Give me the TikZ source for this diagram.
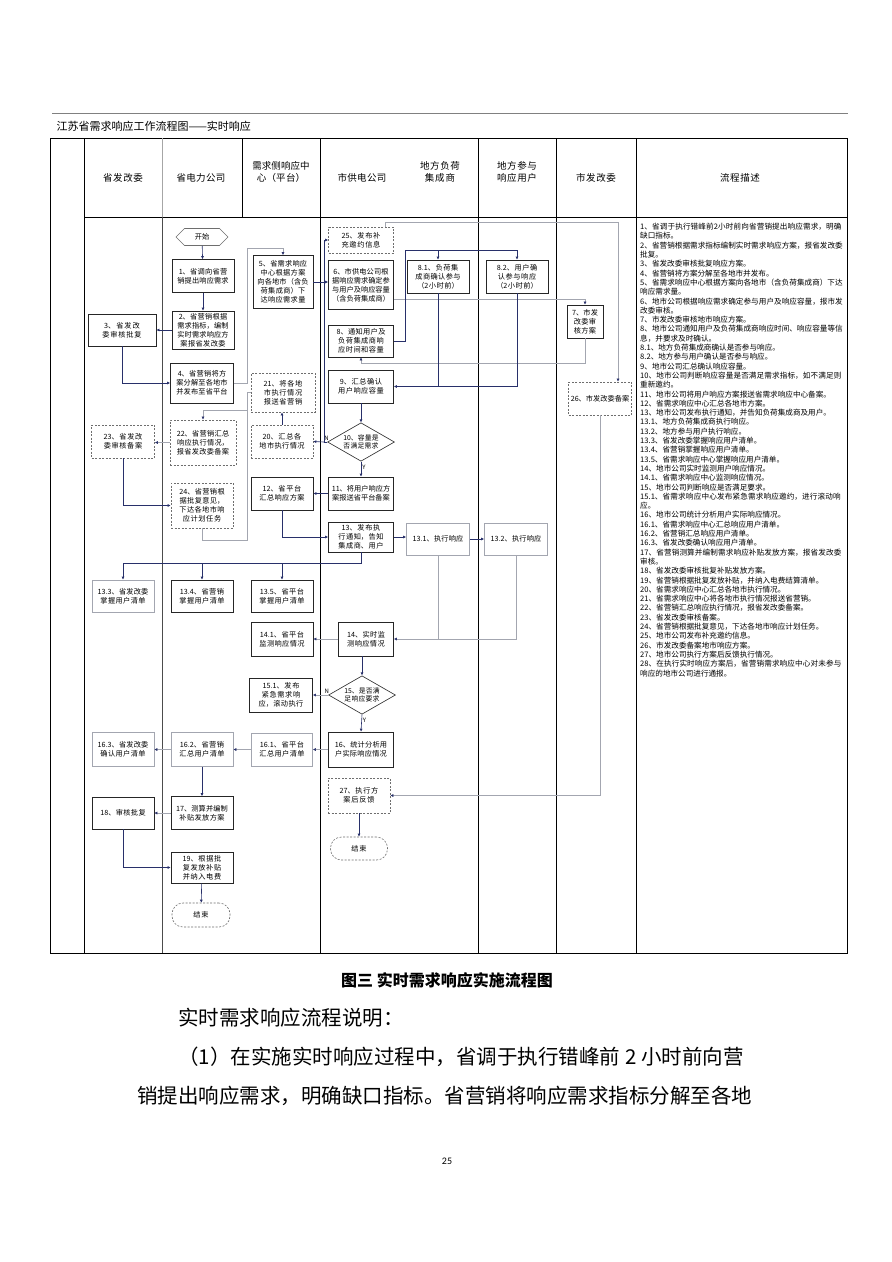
\documentclass[tikz,border=0pt]{standalone}
\usepackage{fontspec}
\setmainfont{Noto Sans CJK SC}
\newfontfamily\pageNumFont{Carlito}
\usetikzlibrary{arrows.meta,shapes.geometric,shapes.symbols}
\XeTeXlinebreaklocale "zh"
\XeTeXlinebreakskip=0pt plus 1pt

\begin{document}
\begin{tikzpicture}[x=1pt, y=-1pt,
    procBox/.style={draw=boxCol, line width=0.6pt, fill=white, align=center, inner sep=1pt, text width=56pt, font=\nodeFont},
    softBox/.style={procBox, draw=softCol},
    dashBox/.style={procBox, draw=dashCol, dash pattern=on 2pt off 1.5pt},
    endBox/.style={dashBox, rounded corners=11pt, text width=40pt},
    sz/.style 2 args={minimum width=#1, minimum height=#2},
    choice/.style={diamond, draw=boxCol, line width=0.6pt, fill=white, align=center, aspect=1.74, inner sep=0pt, text width=42pt, font=\choiceFont},
    link/.style={draw=linkCol, line width=0.6pt, -{Latex[length=3pt,width=3pt]}},
    softLink/.style={draw=softCol, line width=0.5pt, -{Latex[length=3pt,width=3pt,color=linkCol]}},
    plain/.style={draw=linkCol, line width=0.6pt},
    softPlain/.style={draw=softCol, line width=0.5pt},
    tableLine/.style={draw=black, line width=0.8pt},
    headText/.style={align=center, text width=60pt, font=\headFont},
    flag/.style={font=\fontsize{6}{6}\selectfont, inner sep=1pt}
]
    \def\nodeFont{\fontsize{7.2}{9}\selectfont}
    \def\choiceFont{\fontsize{6.8}{8}\selectfont}
    \def\headFont{\fontsize{9.5}{12}\selectfont}
    \def\descFont{\fontsize{7.6}{9.3}\selectfont}
    \def\paraFont{\fontsize{20.5}{24}\selectfont}

    \definecolor{boxCol}{HTML}{262626}
    \definecolor{dashCol}{HTML}{6E6E6E}
    \definecolor{softCol}{HTML}{A3A6B0}
    \definecolor{linkCol}{HTML}{28306A}

    % Page
    \fill[white] (0,0) rectangle (892,1262);
    \useasboundingbox (0,0) rectangle (892,1262);
    \draw[gray, line width=0.5pt] (52,113) -- (848,113);
    \node[anchor=west, font=\fontsize{11}{11}\selectfont] (title) at (53,126) {江苏省需求响应工作流程图——实时响应};

    % Table frame and lanes
    \draw[tableLine] (50,138) rectangle (847,953);
    \draw[tableLine] (84,217) -- (847,217);
    \foreach \x in {84,320,478,556,636}
        \draw[tableLine] (\x,138) -- (\x,953);
    \draw[tableLine] (242,138) -- (242,217);
    \draw[black!35, line width=0.6pt] (162,138) -- (162,217);
    \draw[black!70, line width=0.7pt] (162,217) -- (162,953);

    % Lane headers
    \node[headText] (hProvGov) at (123,178) {省发改委};
    \node[headText] (hProvGrid) at (201,178) {省电力公司};
    \node[headText] (hCentre) at (281,172) {需求侧响应中心（平台）};
    \node[headText] (hCityGrid) at (362,178) {市供电公司};
    \node[headText] (hAggr) at (440,172) {地方负荷集成商};
    \node[headText] (hUser) at (517,172) {地方参与响应用户};
    \node[headText] (hCityGov) at (596,178) {市发改委};
    \node[headText] (hDesc) at (740,178) {流程描述};

    % Process boxes
    \node[signal, signal to=east and west, draw=dashCol, line width=0.6pt, fill=white, font=\nodeFont, minimum width=52pt, minimum height=17pt, inner sep=1pt] (start) at (202,237) {开始};
    \node[procBox, sz={62}{33}] (n1) at (203,276) {1、省调向省营销提出响应需求};
    \node[procBox, sz={62}{38}] (n2) at (203,330) {2、省营销根据需求指标，编制实时需求响应方案报省发改委};
    \node[procBox, sz={68}{32}, text width=62pt] (n3) at (122,330) {3、省发改委审核批复};
    \node[procBox, sz={63}{40}] (n4) at (202,383) {4、省营销将方案分解至各地市并发布至省平台};
    \node[procBox, sz={60}{53}, text width=55pt] (n5) at (283,282) {5、省需求响应中心根据方案向各地市（含负荷集成商）下达响应需求量};
    \node[dashBox, sz={65}{26}, text width=59pt] (n25) at (361,240) {25、发布补充邀约信息};
    \node[procBox, sz={65}{49}, text width=59pt] (n6) at (361,285) {6、市供电公司根据响应需求确定参与用户及响应容量（含负荷集成商）};
    \node[procBox, sz={36}{33}, text width=31pt] (n7) at (585,321.5) {7、市发改委审核方案};
    \node[procBox, sz={65}{32}, text width=59pt] (n8) at (361,341) {8、通知用户及负荷集成商响应时间和容量};
    \node[procBox, sz={62}{33}] (n81) at (438,276.5) {8.1、负荷集成商确认参与（2小时前）};
    \node[procBox, sz={62}{33}] (n82) at (517,276.5) {8.2、用户确认参与响应（2小时前）};
    \node[procBox, sz={65}{33}, text width=59pt] (n9) at (361,386.5) {9、汇总确认用户响应容量};
    \node[choice] (d10) at (361,442) {10、容量是否满足需求};
    \node[dashBox, sz={64}{39}] (n21) at (283,392.5) {21、将各地市执行情况报送省营销};
    \node[dashBox, sz={62}{33}] (n20) at (282,441.5) {20、汇总各地市执行情况};
    \node[dashBox, sz={66}{45}, text width=60pt] (n22) at (203,442.5) {22、省营销汇总响应执行情况，报省发改委备案};
    \node[dashBox, sz={63}{33}] (n23) at (123,441.5) {23、省发改委审核备案};
    \node[dashBox, sz={62}{45}] (n24) at (202,505.5) {24、省营销根据批复意见，下达各地市响应计划任务};
    \node[dashBox, sz={63}{33}, text width=59pt] (n26) at (600,398.5) {26、市发改委备案};
    \node[procBox, sz={65}{33}, text width=59pt] (n11) at (361,493.5) {11、将用户响应方案报送省平台备案};
    \node[procBox, sz={62}{33}] (n12) at (282,493.5) {12、省平台汇总响应方案};
    \node[procBox, sz={65}{30}, text width=59pt] (n13) at (361,537) {13、发布执行通知，告知集成商、用户};
    \node[softBox, sz={63}{32}] (n131) at (438,539) {13.1、执行响应};
    \node[softBox, sz={63}{32}] (n132) at (516,539) {13.2、执行响应};
    \node[softBox, sz={62}{32}] (n133) at (123,596) {13.3、省发改委掌握用户清单};
    \node[procBox, sz={62}{32}] (n134) at (202,596) {13.4、省营销掌握用户清单};
    \node[procBox, sz={62}{32}] (n135) at (282,596) {13.5、省平台掌握用户清单};
    \node[procBox, sz={55}{34}, text width=49pt] (n14) at (366,639) {14、实时监测响应情况};
    \node[procBox, sz={62}{34}] (n141) at (282,639) {14.1、省平台监测响应情况};
    \node[choice] (d15) at (362,695) {15、是否满足响应要求};
    \node[procBox, sz={63}{34}] (n151) at (281,695) {15.1、发布紧急需求响应，滚动执行};
    \node[procBox, sz={65}{35}, text width=59pt] (n16) at (361,749.5) {16、统计分析用户实际响应情况};
    \node[softBox, sz={61}{33}] (n161) at (282,749.5) {16.1、省平台汇总用户清单};
    \node[softBox, sz={62}{34}] (n162) at (202,749.5) {16.2、省营销汇总用户清单};
    \node[softBox, sz={62}{34}] (n163) at (123,749.5) {16.3、省发改委确认用户清单};
    \node[procBox, sz={62}{33}] (n17) at (202,813) {17、测算并编制补贴发放方案};
    \node[procBox, sz={62}{32}] (n18) at (123,813) {18、审核批复};
    \node[procBox, sz={62}{31}] (n19) at (202,867.5) {19、根据批复发放补贴并纳入电费};
    \node[endBox, sz={58}{24}] (end1) at (201,915) {结束};
    \node[dashBox, sz={62}{35}] (n27) at (359,795.5) {27、执行方案后反馈};
    \node[endBox, sz={57}{23}] (end2) at (359,848.5) {结束};

    % Junctions
    \coordinate (jA) at (247,248);
    \coordinate (jB) at (405,250);
    \coordinate (jN) at (324,442);
    \coordinate (jC) at (247,410);
    \coordinate (jD) at (247,540);
    \coordinate (jE) at (618,222);
    \coordinate (busF) at (123,563);

    % Connectors: upper half
    \draw[link] (start) -- (n1);
    \draw[link] (n1) -- (n2);
    \draw[link] (n2) -- (n3);
    \draw[link] (n3.south) |- (n4.west);
    \draw[softLink] (n4.east) -| (jA) -| (n5.north);
    \draw[link] (n5.east) -- (n5.east -| n6.west);
    \draw[softLink] ([yshift=-14pt]n6.east) -| (n7.north);
    \draw[softLink] (n7.south) -- ++(0,25) -| (n8.south);
    \draw[link] (n8.east) -| (jB) -| (n82.north);
    \draw[link] (jB -| n81.north) -- (n81.north);
    \draw[plain] (n81.south) -- (n81.south |- n9.east);
    \draw[link] (n82.south) |- (n9.east);
    \draw[link] (n9) -- (d10);
    \draw[link] (d10.south) -- node[flag, right, pos=0.35] {Y} (n11.north);
    \draw[plain] (d10.west) -- node[flag, above, pos=0.2] {N} (jN);
    \draw[link] (jN) -- (n20.east);
    \draw[link] (jN) |- (n25.west);
    \draw[link] (n20.north) -- (n20.north |- n21.south);
    \draw[softLink] (n21.west) -| (jC) -| (n22.north);
    \draw[softLink] (n22.west) -- (n22.west -| n23.east);
    \draw[link] (n23.south) |- (n24.west);
    \draw[softPlain] (n24.south) |- (jD) -- (jC);
    \draw[softLink] ([xshift=24pt]n25.north) |- (jE) -- (jE |- n26.north);
    \draw[softLink] (n26.south) |- (n27.east);
    \draw[link] (n27) -- (end2);

    % Connectors: lower half
    \draw[link] (n11) -- (n12);
    \draw[link] (n12.south) |- (n13.west);
    \draw[link] (n13.east) -- (n13.east -| n131.west);
    \draw[link] (n131.east) -- (n131.east -| n132.west);
    \draw[plain] (n13.south) |- (busF);
    \draw[link] (busF) -- (n133.north);
    \draw[link] (busF -| n134.north) -- (n134.north);
    \draw[link] (busF -| n135.north) -- (n135.north);
    \draw[softPlain] (n131.south) -- (n131.south |- n14.east);
    \draw[softLink] (n132.south) |- (n14.east);
    \draw[softLink] (n14.west) -- (n14.west -| n141.east);
    \draw[link] (d15.north |- n14.south) -- (d15.north);
    \draw[softLink] (d15.west) -- node[flag, above, pos=0.1] {N} (n151.east);
    \draw[link] (d15.south) -- node[flag, right, pos=0.35] {Y} (n16.north);
    \draw[softLink] (n16) -- (n161);
    \draw[softLink] (n161) -- (n162);
    \draw[softLink] (n162) -- (n163);
    \draw[link] (n162) -- (n17);
    \draw[softLink] (n17) -- (n18);
    \draw[link] (n18.south) |- (n19.west);
    \draw[link] (n19) -- (end1);

    % Process description column
    \node[anchor=north west, align=left, text width=203pt, inner sep=0pt, font=\descFont] (desc) at (640,223) {%
        1、省调于执行错峰前2小时前向省营销提出响应需求，明确缺口指标。\\
        2、省营销根据需求指标编制实时需求响应方案，报省发改委批复。\\
        3、省发改委审核批复响应方案。\\
        4、省营销将方案分解至各地市并发布。\\
        5、省需求响应中心根据方案向各地市（含负荷集成商）下达响应需求量。\\
        6、地市公司根据响应需求确定参与用户及响应容量，报市发改委审核。\\
        7、市发改委审核地市响应方案。\\
        8、地市公司通知用户及负荷集成商响应时间、响应容量等信息，并要求及时确认。\\
        8.1、地方负荷集成商确认是否参与响应。\\
        8.2、地方参与用户确认是否参与响应。\\
        9、地市公司汇总确认响应容量。\\
        10、地市公司判断响应容量是否满足需求指标，如不满足则重新邀约。\\
        11、地市公司将用户响应方案报送省需求响应中心备案。\\
        12、省需求响应中心汇总各地市方案。\\
        13、地市公司发布执行通知，并告知负荷集成商及用户。\\
        13.1、地方负荷集成商执行响应。\\
        13.2、地方参与用户执行响应。\\
        13.3、省发改委掌握响应用户清单。\\
        13.4、省营销掌握响应用户清单。\\
        13.5、省需求响应中心掌握响应用户清单。\\
        14、地市公司实时监测用户响应情况。\\
        14.1、省需求响应中心监测响应情况。\\
        15、地市公司判断响应是否满足要求。\\
        15.1、省需求响应中心发布紧急需求响应邀约，进行滚动响应。\\
        16、地市公司统计分析用户实际响应情况。\\
        16.1、省需求响应中心汇总响应用户清单。\\
        16.2、省营销汇总响应用户清单。\\
        16.3、省发改委确认响应用户清单。\\
        17、省营销测算并编制需求响应补贴发放方案，报省发改委审核。\\
        18、省发改委审核批复补贴发放方案。\\
        19、省营销根据批复发放补贴，并纳入电费结算清单。\\
        20、省需求响应中心汇总各地市执行情况。\\
        21、省需求响应中心将各地市执行情况报送省营销。\\
        22、省营销汇总响应执行情况，报省发改委备案。\\
        23、省发改委审核备案。\\
        24、省营销根据批复意见，下达各地市响应计划任务。\\
        25、地市公司发布补充邀约信息。\\
        26、市发改委备案地市响应方案。\\
        27、地市公司执行方案后反馈执行情况。\\
        28、在执行实时响应方案后，省营销需求响应中心对未参与响应的地市公司进行通报。};

    % Caption and body text below the chart
    \node[font=\fontsize{16}{16}\selectfont\bfseries] (caption) at (447,980) {图三\ 实时需求响应实施流程图};
    \node[anchor=west, inner sep=0pt, font=\paraFont] (para1) at (178,1018) {实时需求响应流程说明：};
    \node[anchor=west, inner sep=0pt, font=\paraFont] (para2) at (178,1057) {\makebox[592pt][s]{（1）在实施实时响应过程中，省调于执行错峰前\hspace{5pt}2\hspace{5pt}小时前向营}};
    \node[anchor=west, inner sep=0pt, font=\paraFont] (para3) at (137,1096) {\makebox[633pt][s]{销提出响应需求，明确缺口指标。省营销将响应需求指标分解至各地}};
    \node[font=\pageNumFont\fontsize{10}{10}\selectfont] (pageNo) at (447,1161) {25};

\end{tikzpicture}
\end{document}
